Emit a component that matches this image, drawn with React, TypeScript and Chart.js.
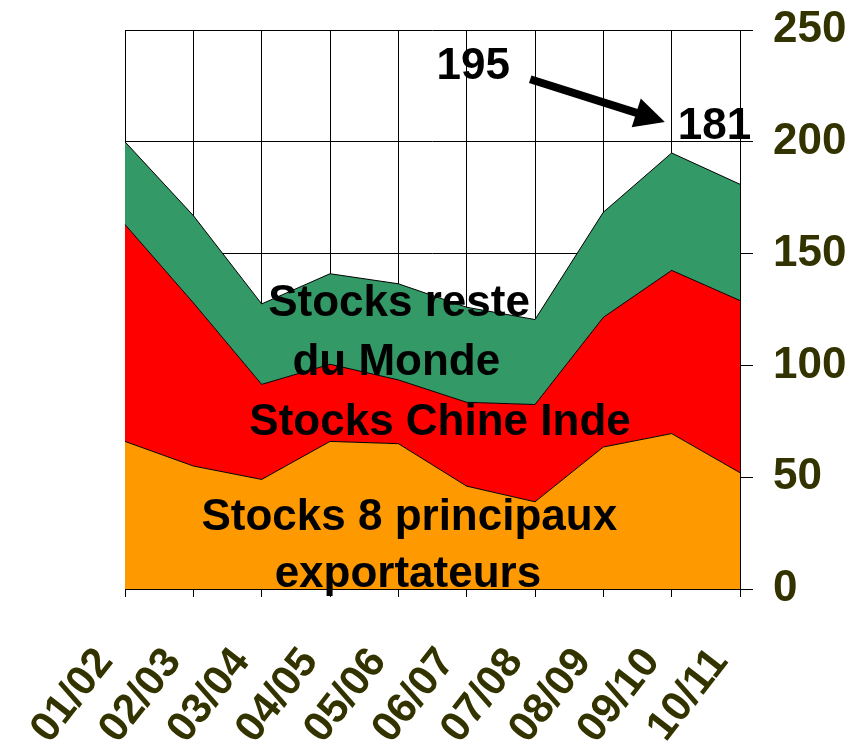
import React, { useEffect, useRef } from "react";
import { Chart, registerables } from "chart.js";

Chart.register(...registerables);

const categories = ["01/02", "02/03", "03/04", "04/05", "05/06", "06/07", "07/08", "08/09", "09/10", "10/11"];
const exporters8 = [66, 55, 49, 66, 65, 46, 39, 63.5, 69.5, 52];
const chinaIndia = [97, 73, 42.5, 34.5, 28.5, 37.5, 43.5, 58, 73, 77];
const restOfWorld = [37, 39, 36, 40.5, 43, 42.5, 38, 47, 52.5, 52];
const yTicks = [0, 50, 100, 150, 200, 250];

// annotation texts: [text, category index (center), value at baseline]
const areaLabels: [string, number, number][] = [
  ["Stocks reste", 4.01, 122.3],
  ["du Monde", 3.97, 95.5],
  ["Stocks Chine Inde", 4.61, 68.7],
  ["Stocks 8 principaux", 4.16, 26.3],
  ["exportateurs", 4.14, 1.0],
];
// value callouts: [text, category index (left edge), value at baseline]
const callouts: [string, number, number][] = [
  ["195", 4.56, 228],
  ["181", 8.09, 201.2],
];
// arrow from [index, value] to [index, value]
const arrowFrom = [5.93, 228];
const arrowTo = [7.9, 208.9];

const FONT = "'Liberation Sans', Arial, sans-serif";

const annotationPlugin = {
  id: "annotations",
  afterDraw(chart: any) {
    const ctx = chart.ctx;
    const xs = chart.scales.x;
    const ys = chart.scales.y;
    ctx.save();
    ctx.fillStyle = "#000";
    ctx.font = `bold 44px ${FONT}`;
    ctx.textBaseline = "alphabetic";
    ctx.textAlign = "center";
    for (const [t, i, v] of areaLabels) {
      ctx.fillText(t, xs.getPixelForValue(i), ys.getPixelForValue(v));
    }
    ctx.textAlign = "left";
    for (const [t, i, v] of callouts) {
      ctx.fillText(t, xs.getPixelForValue(i), ys.getPixelForValue(v));
    }
    const x1 = xs.getPixelForValue(arrowFrom[0]);
    const y1 = ys.getPixelForValue(arrowFrom[1]);
    const x2 = xs.getPixelForValue(arrowTo[0]);
    const y2 = ys.getPixelForValue(arrowTo[1]);
    const ang = Math.atan2(y2 - y1, x2 - x1);
    const headLen = 30;
    const headHalf = 15;
    const bx = x2 - headLen * Math.cos(ang);
    const by = y2 - headLen * Math.sin(ang);
    ctx.strokeStyle = "#000";
    ctx.lineWidth = 8;
    ctx.lineCap = "butt";
    ctx.beginPath();
    ctx.moveTo(x1, y1);
    ctx.lineTo(bx + 2 * Math.cos(ang), by + 2 * Math.sin(ang));
    ctx.stroke();
    ctx.beginPath();
    ctx.moveTo(x2, y2);
    ctx.lineTo(bx + headHalf * Math.sin(ang), by - headHalf * Math.cos(ang));
    ctx.lineTo(bx - headHalf * Math.sin(ang), by + headHalf * Math.cos(ang));
    ctx.closePath();
    ctx.fill();
    ctx.restore();
  },
};

export default function App() {
  const ref = useRef<HTMLCanvasElement>(null);
  useEffect(() => {
    const canvas = ref.current!;
    const chart = new Chart(canvas, {
      type: "line",
      data: {
        labels: categories,
        datasets: [
          {
            label: "Stocks 8 principaux exportateurs",
            data: exporters8,
            backgroundColor: "#FF9900",
            borderColor: "#000",
            borderWidth: 1,
            fill: "origin",
            pointRadius: 0,
            tension: 0,
          },
          {
            label: "Stocks Chine Inde",
            data: chinaIndia,
            backgroundColor: "#FF0000",
            borderColor: "#000",
            borderWidth: 1,
            fill: "-1",
            pointRadius: 0,
            tension: 0,
          },
          {
            label: "Stocks reste du Monde",
            data: restOfWorld,
            backgroundColor: "#339966",
            borderColor: "#000",
            borderWidth: 1,
            fill: "-1",
            pointRadius: 0,
            tension: 0,
          },
        ],
      },
      options: {
        responsive: false,
        animation: false,
        devicePixelRatio: 1,
        layout: { padding: { left: 125, top: 30, right: 0, bottom: 0 } },
        plugins: {
          legend: { display: false },
          tooltip: { enabled: false },
        },
        scales: {
          x: {
            type: "category",
            offset: false,
            grid: { color: "#000", lineWidth: 1, tickLength: 8, drawOnChartArea: true },
            border: { color: "#000", width: 1 },
            ticks: {
              autoSkip: false,
              minRotation: 52,
              maxRotation: 52,
              padding: 42,
              labelOffset: -20,
              color: "#333300",
              font: { family: FONT, size: 42, weight: "bold" },
            },
            afterFit: (s: any) => {
              s.height = 157;
              s.paddingLeft = 0;
              s.paddingRight = 0;
              s.paddingTop = 0;
              s.paddingBottom = 0;
            },
          },
          y: {
            position: "right",
            stacked: true,
            min: 0,
            max: 250,
            afterBuildTicks: (s: any) => {
              s.ticks = yTicks.map((v) => ({ value: v }));
            },
            grid: { color: "#000", lineWidth: 1, tickLength: 13 },
            border: { color: "#000", width: 1 },
            ticks: {
              padding: 20,
              color: "#333300",
              font: { family: FONT, size: 44, weight: "bold" },
            },
            afterFit: (s: any) => {
              s.width = 121;
              s.paddingTop = 0;
              s.paddingBottom = 0;
              s.paddingLeft = 0;
              s.paddingRight = 0;
            },
          },
        },
      },
      plugins: [annotationPlugin],
    } as any);
    return () => chart.destroy();
  }, []);
  return (
    <div style={{ position: "absolute", left: 0, top: 0, width: 861, height: 746, background: "#fff" }}>
      <canvas ref={ref} width={861} height={746} style={{ display: "block", width: 861, height: 746 }} />
    </div>
  );
}
